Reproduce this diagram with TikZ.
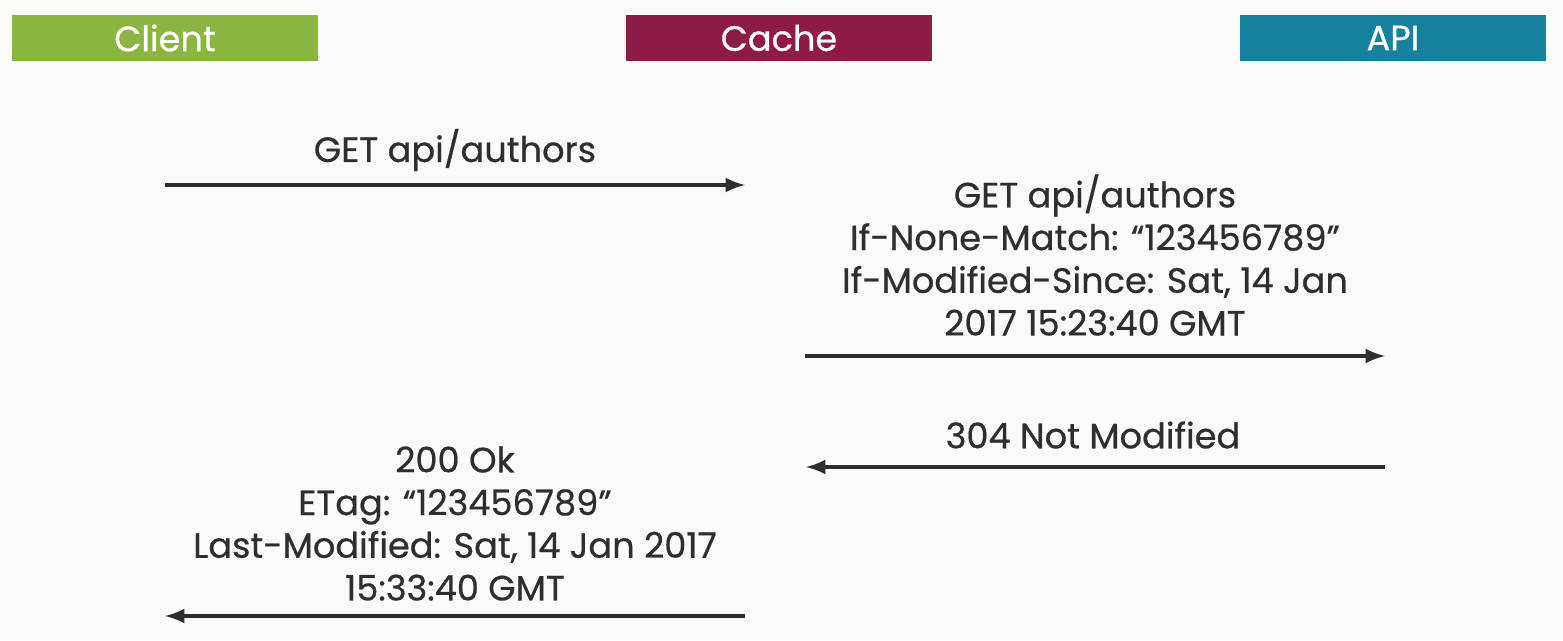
\documentclass[tikz,border=0pt]{standalone}
\usepackage{fontspec}
\setmainfont{Poppins}[FakeBold=0.6]
\usepackage{tikz}
\usetikzlibrary{arrows}
\definecolor{clientgreen}{HTML}{8AB540}
\definecolor{cachered}{HTML}{8E1A45}
\definecolor{apiblue}{HTML}{14819E}
\definecolor{textgray}{HTML}{2E2E2E}
\definecolor{bggray}{HTML}{FAFAF9}

\begin{document}
\begin{tikzpicture}
        \fill[bggray] (0,0) rectangle (15.63,6.40);
        \useasboundingbox (0,0) rectangle (15.63,6.40);
        \tikzstyle{actor} = [minimum width=3.06cm, minimum height=0.46cm, inner sep=0pt, text=white, font=\fontsize{10}{12}\selectfont]
        \tikzstyle{msg} = [text=textgray, align=center, inner sep=0pt, font=\fontsize{10}{12.15}\selectfont]
        \tikzstyle{call} = [->, >=latex, line width=0.9pt, draw=textgray]
        % actors
        \node[actor, fill=clientgreen] (client) at (1.65,6.02) {Client};
        \node[actor, fill=cachered] (cache) at (7.79,6.02) {Cache};
        \node[actor, fill=apiblue] (api) at (13.93,6.02) {API};
        % arrow ends
        \coordinate (c1) at (1.65,4.55);
        \coordinate (k1) at (7.45,4.55);
        \coordinate (k2) at (8.05,2.84);
        \coordinate (a2) at (13.85,2.84);
        \coordinate (a3) at (13.85,1.73);
        \coordinate (k3) at (8.06,1.73);
        \coordinate (k4) at (7.45,0.24);
        \coordinate (c4) at (1.65,0.24);
        % requests
        \draw[call] (c1)--(k1);
        \node[msg] (req1) at (4.55,4.90) {GET api/authors};
        \draw[call] (k2)--(a2);
        \node[msg] (req2) at (10.95,3.85) {GET api/authors\\If-None-Match: “123456789”\\If-Modified-Since: Sat, 14 Jan\\2017 15:23:40 GMT};
        % responses
        \draw[call] (a3)--(k3);
        \node[msg] (resp1) at (10.93,2.05) {304 Not Modified};
        \draw[call] (k4)--(c4);
        \node[msg] (resp2) at (4.55,1.165) {200 Ok\\ETag: “123456789”\\Last-Modified: Sat, 14 Jan 2017\\15:33:40 GMT};
       \end{tikzpicture}
\end{document}
